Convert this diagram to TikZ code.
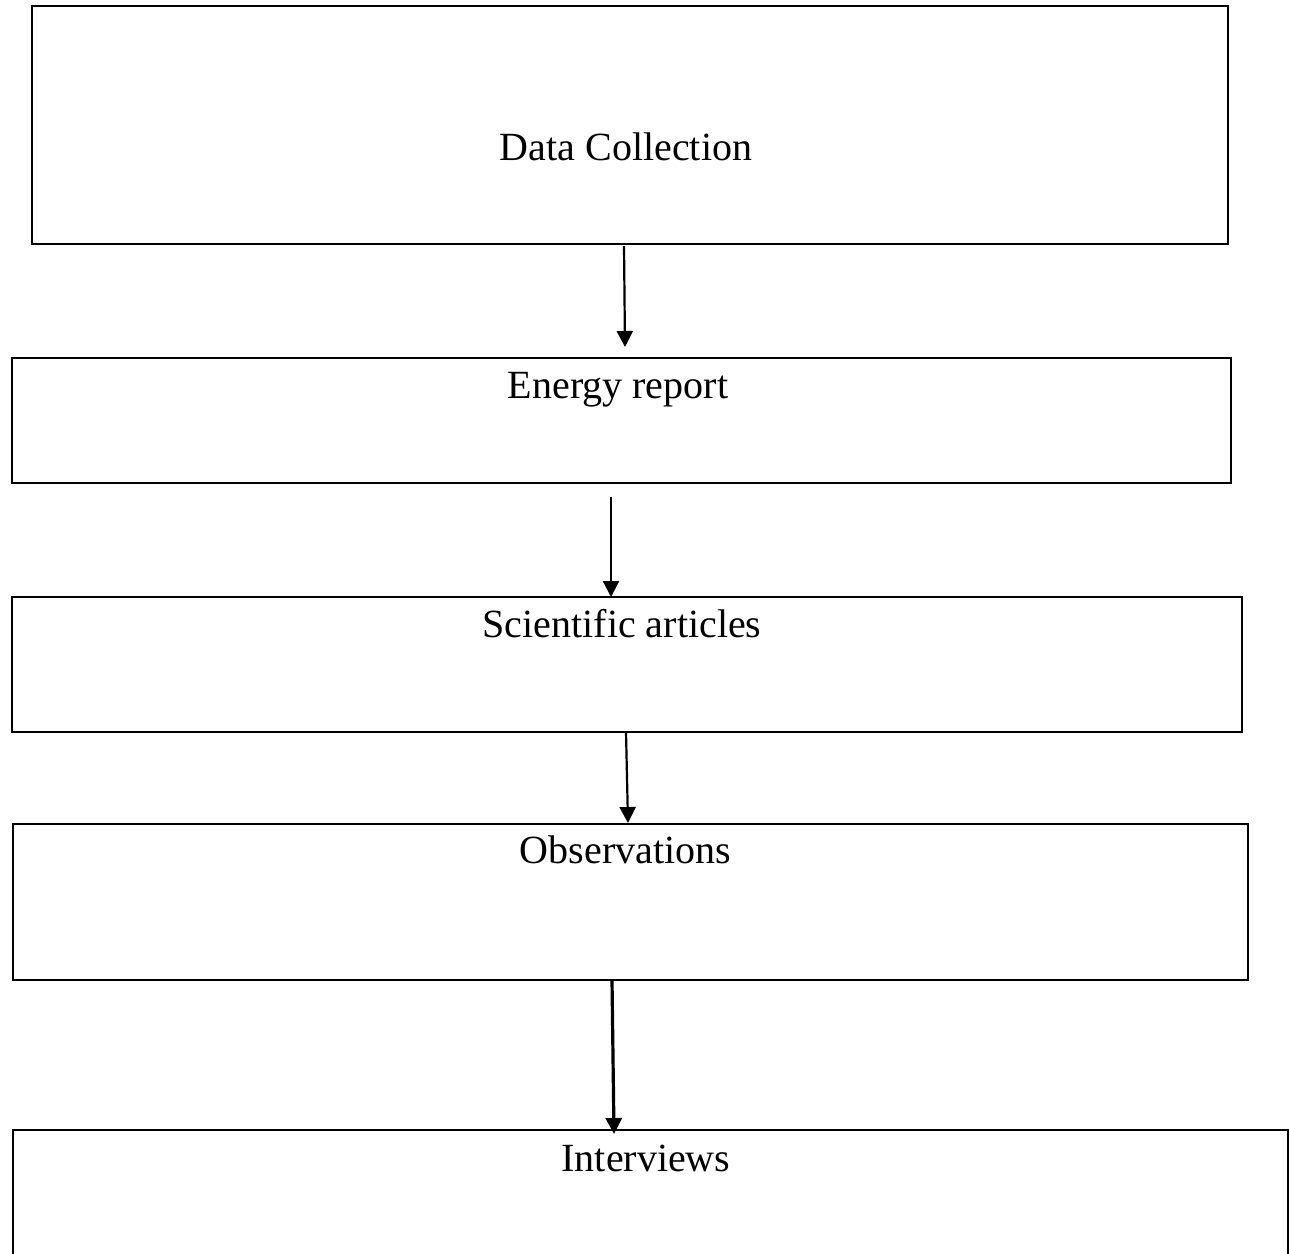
\documentclass[tikz,border=0pt]{standalone}
\usepackage{fontspec}
\setmainfont{Liberation Serif}
\usetikzlibrary{arrows.meta}
\tikzset{
  box/.style={draw=black, line width=2.8pt, rectangle, inner sep=0pt, outer sep=0pt},
  lbl/.style={anchor=base, inner sep=0pt, font=\fontsize{40}{48}\selectfont},
  arr/.style={draw=black, line width=2.2pt, -{Triangle[width=16pt,length=16pt]}},
  thickarr/.style={arr, line width=3.2pt}
}
\begin{document}
\begin{tikzpicture}[x=1pt,y=-1pt]
\useasboundingbox (0,0) rectangle (1289,1253);
\fill[white] (0,0) rectangle (1289,1253);
\clip (0,0) rectangle (1289,1253);
% boxes
\node[box, minimum width=1196pt, minimum height=238pt] (b1) at (630,125) {};
\node[box, minimum width=1219pt, minimum height=125pt] (b2) at (621.5,420.5) {};
\node[box, minimum width=1230pt, minimum height=135pt] (b3) at (627,664.5) {};
\node[box, minimum width=1235pt, minimum height=156pt] (b4) at (630.5,902) {};
\node[box, minimum width=1275pt, minimum height=170pt] (b5) at (650.5,1215) {};
% texts
\node[lbl] (t1) at (626,160) {Data Collection};
\node[lbl] (t2) at (618,398) {Energy report};
\node[lbl] (t3) at (622,637) {Scientific articles};
\node[lbl] (t4) at (625.5,863) {Observations};
\node[lbl] (t5) at (646,1171) {Interviews};
% arrows
\draw[arr] ([xshift=-6pt,yshift=-2pt]b1.south) -- ([xshift=3.5pt,yshift=11pt]b2.north);
\draw[arr] ([xshift=-10.5pt,yshift=-14pt]b2.south) -- ([xshift=-16pt]b3.north);
\draw[arr] ([xshift=-1pt]b3.south) -- ([xshift=-2.5pt,yshift=1pt]b4.north);
\draw[thickarr] ([xshift=-18.5pt]b4.south) -- ([xshift=-36.5pt,yshift=-4pt]b5.north);
\end{tikzpicture}
\end{document}
